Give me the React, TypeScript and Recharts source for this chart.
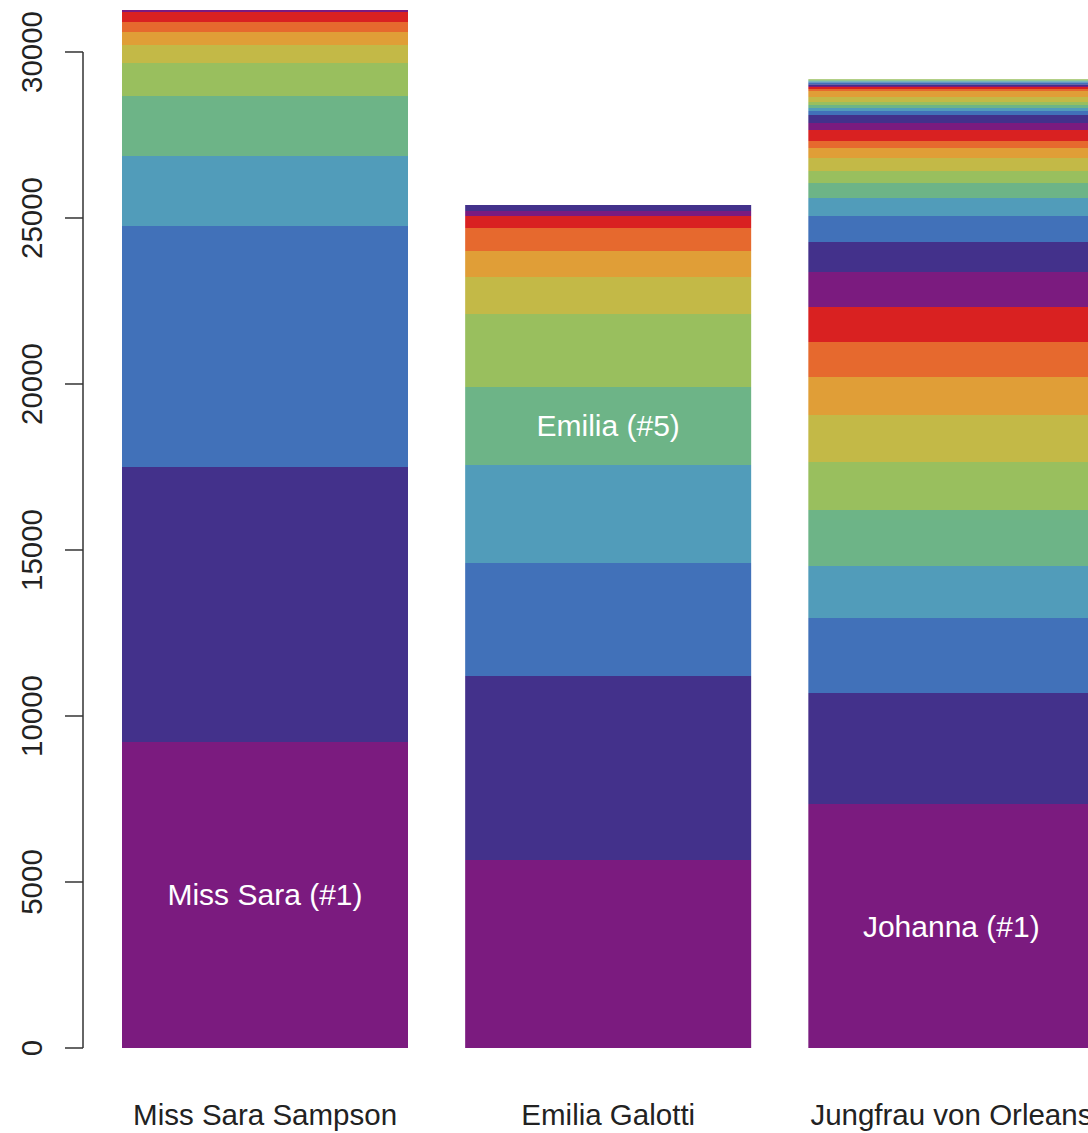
import React from 'react';
import { BarChart, Bar, XAxis, YAxis, ReferenceLine, LabelList } from 'recharts';

const plays = ['Miss Sara Sampson', 'Emilia Galotti', 'Jungfrau von Orleans'];

// words spoken per character, ordered by rank (bottom to top)
const sampsonWords = [9217, 8283, 7259, 2108, 1807, 994, 542, 392, 301, 301, 60];
const galottiWords = [5663, 5542, 3404, 2952, 2349, 2199, 1114, 783, 693, 361, 151, 181];
const orleansWords = [
  7349, 3343, 2259, 1566, 1687, 1446, 1416, 1145, 1054, 1054,
  1054, 904, 783, 542, 452, 361, 392, 301, 211, 331,
  211, 241, 120, 90, 90, 90, 150, 180, 60, 60,
  30, 60, 60, 30, 30, 30,
];

const palette = [
  '#7B1B7F', '#43318B', '#4171B9', '#519CBA', '#6DB487',
  '#99BF5E', '#C3B947', '#E09E37', '#E6692E', '#D92121',
];

const yTicks = [0, 5000, 10000, 15000, 20000, 25000, 30000];

const labelPlays = [0, 1, 2];
const labelSegments = [0, 4, 0];
const labelTexts = ['Miss Sara (#1)', 'Emilia (#5)', 'Johanna (#1)'];

const segmentValues = [sampsonWords, galottiWords, orleansWords];
const maxSegments = Math.max(...segmentValues.map((a) => a.length));
const segKeys = Array.from({ length: maxSegments }, (_, i) => `s${i}`);

const data = plays.map((name, p) => {
  const row: Record<string, any> = { name };
  segKeys.forEach((k, i) => {
    row[k] = segmentValues[p][i] ?? 0;
  });
  labelPlays.forEach((lp, j) => {
    if (lp === p) row[`l${labelSegments[j]}`] = labelTexts[j];
  });
  return row;
});

const FONT = 'Liberation Sans, Arial, Helvetica, sans-serif';

const YTick = (props: any) => {
  const { x, y, payload } = props;
  return (
    <text
      x={x}
      y={y}
      transform={`rotate(-90, ${x}, ${y})`}
      textAnchor="middle"
      fontSize={29.5}
      fontFamily={FONT}
      fill="#222"
    >
      {payload.value}
    </text>
  );
};

const XTick = (props: any) => {
  const { x, y, payload } = props;
  return (
    <text x={x} y={y + 77} textAnchor="middle" fontSize={29.5} fontFamily={FONT} fill="#222">
      {payload.value}
    </text>
  );
};

const renderLabel = (props: any) => {
  const vb = props.viewBox && props.viewBox.width != null ? props.viewBox : props;
  const { value } = props;
  if (!value) return null;
  const cx = vb.x + vb.width / 2;
  const cy = vb.y + vb.height / 2;
  return (
    <text x={cx} y={cy + 10.5} textAnchor="middle" fontSize={30} fontFamily={FONT} fill="#ffffff">
      {value}
    </text>
  );
};

const labelledSegments = new Set(labelSegments);

export default function App() {
  return (
    <div
      style={{
        position: 'fixed',
        left: 0,
        top: 0,
        width: 1088,
        height: 1133,
        overflow: 'hidden',
        background: '#fff',
      }}
    >
      <BarChart
        width={1123}
        height={1133}
        data={data}
        margin={{ top: 0, right: 0, bottom: 0, left: 0 }}
        barCategoryGap={28.5}
      >
        <XAxis
          dataKey="name"
          axisLine={false}
          tickLine={false}
          tickSize={0}
          tickMargin={0}
          height={85}
          padding={{ left: 10.5, right: 0 }}
          interval={0}
          tick={<XTick />}
        />
        <XAxis xAxisId="frame" type="number" domain={[0, 1]} hide />
        <YAxis
          domain={[0, 31566]}
          ticks={yTicks}
          width={83}
          axisLine={false}
          tickSize={18}
          tickMargin={23}
          tickLine={{ stroke: '#333', strokeWidth: 1.5 }}
          interval={0}
          allowDataOverflow
          tick={<YTick />}
        />
        {segKeys.map((k, i) => (
          <Bar key={k} dataKey={k} stackId="a" fill={palette[i % palette.length]} isAnimationActive={false}>
            {labelledSegments.has(i) ? (
              <LabelList dataKey={`l${i}`} content={renderLabel} />
            ) : null}
          </Bar>
        ))}
        <ReferenceLine
          xAxisId="frame"
          segment={[
            { x: 0, y: 0 },
            { x: 0, y: 30000 },
          ]}
          stroke="#333"
          strokeWidth={1.5}
        />
      </BarChart>
    </div>
  );
}
